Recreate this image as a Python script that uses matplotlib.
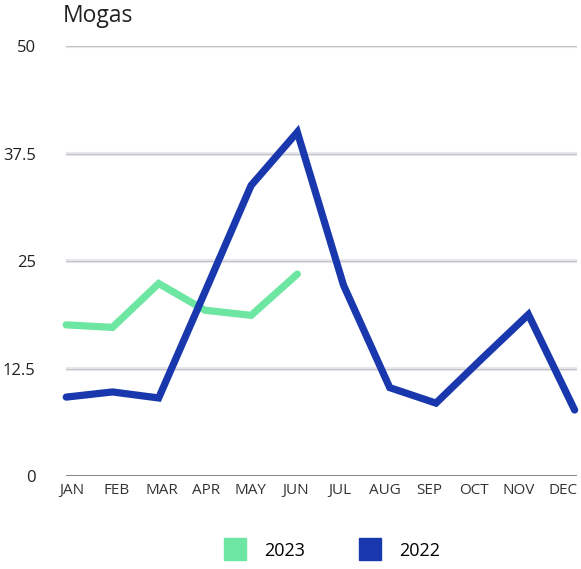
import matplotlib.pyplot as plt
from matplotlib.lines import Line2D

plt.rcParams['font.family'] = ['Open Sans', 'DejaVu Sans']

months = ['JAN', 'FEB', 'MAR', 'APR', 'MAY', 'JUN',
          'JUL', 'AUG', 'SEP', 'OCT', 'NOV', 'DEC']
vals_2022 = [9.2, 9.8, 9.1, 21.4, 33.8, 40.0, 22.2, 10.3, 8.5, 13.7, 18.8, 7.7]
vals_2023 = [17.6, 17.3, 22.4, 19.3, 18.7, 23.5]
yticks = [0, 12.5, 25, 37.5, 50]
ytick_labels = ['0', '12.5', '25', '37.5', '50']

c2022 = '#1a38ad'
c2023 = '#6de6a2'

fig = plt.figure(figsize=(5.81, 5.69), dpi=100)
ax = fig.add_axes([0.114, 0.163, 0.879, 0.756])

for y in yticks[1:]:
    ax.axhline(y, color='#e8e8ec', lw=3.0, zorder=0)
    ax.axhline(y, color='#c4c4c8', lw=0.8, zorder=0)
ax.axhline(0, color='#8a8a8a', lw=2.2, zorder=1)

ax.plot(range(len(months)), vals_2022, color=c2022, lw=5.2,
        solid_capstyle='round', solid_joinstyle='miter', zorder=3, clip_on=False)
ax.plot(range(len(vals_2023)), vals_2023, color=c2023, lw=5.2,
        solid_capstyle='round', solid_joinstyle='miter', zorder=2, clip_on=False)

ax.set_xlim(0, 11.05)
ax.set_ylim(0, 50)
# category labels sit slightly inside the point positions
ax.set_xticks([0.13 + i * 0.965 for i in range(len(months))])
ax.set_xticklabels(months, fontsize=11, color='#333333')
ax.set_yticks(yticks)
ax.set_yticklabels(ytick_labels, fontsize=12, color='#222222')
ax.tick_params(length=0)
ax.tick_params(axis='x', pad=5)
ax.tick_params(axis='y', pad=22)
for s in ax.spines.values():
    s.set_visible(False)

fig.text(0.108, 0.972, 'Mogas', fontsize=16.5, color='#222222', va='center')

handles = [Line2D([], [], marker='s', ls='none', markersize=16,
                  markerfacecolor=c2023, markeredgecolor=c2023),
           Line2D([], [], marker='s', ls='none', markersize=16,
                  markerfacecolor=c2022, markeredgecolor=c2022)]
fig.legend(handles, ['2023', '2022'], loc='center', bbox_to_anchor=(0.565, 0.032),
           ncol=2, frameon=False, fontsize=13, columnspacing=2.6,
           handletextpad=0.6)

fig.savefig('out.png', dpi=100)
